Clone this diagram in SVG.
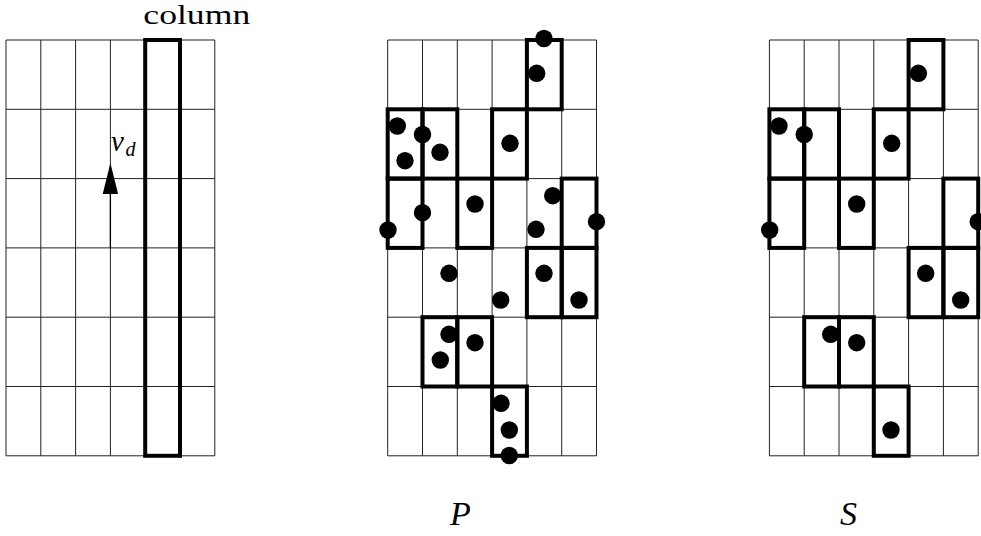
<svg xmlns="http://www.w3.org/2000/svg" xmlns:xlink="http://www.w3.org/1999/xlink" width="981" height="536" viewBox="0 0 981 536">
<style>
.grid{fill:none;stroke:#222;stroke-width:1}
.thick{fill:none;stroke:#000;stroke-width:4}
.dot{fill:#000}
.lbl{font-family:"Liberation Serif","DejaVu Serif",serif;fill:#000}
.it{font-style:italic}
</style>
<defs>
<path id="gridlines" class="grid" d="M0 0V415.8M34.8 0V415.8M69.6 0V415.8M104.4 0V415.8M139.2 0V415.8M174 0V415.8M208.8 0V415.8M0 0H208.8M0 69.3H208.8M0 138.6H208.8M0 207.9H208.8M0 277.2H208.8M0 346.5H208.8M0 415.8H208.8"/>
<rect id="cell" class="thick" width="34.8" height="69.3"/>
<g id="cells">
<use xlink:href="#cell" href="#cell" x="139.2" y="0"/>
<use xlink:href="#cell" href="#cell" x="0" y="69.3"/>
<use xlink:href="#cell" href="#cell" x="34.8" y="69.3"/>
<use xlink:href="#cell" href="#cell" x="104.4" y="69.3"/>
<use xlink:href="#cell" href="#cell" x="0" y="138.6"/>
<use xlink:href="#cell" href="#cell" x="69.6" y="138.6"/>
<use xlink:href="#cell" href="#cell" x="174" y="138.6"/>
<use xlink:href="#cell" href="#cell" x="139.2" y="207.9"/>
<use xlink:href="#cell" href="#cell" x="174" y="207.9"/>
<use xlink:href="#cell" href="#cell" x="34.8" y="277.2"/>
<use xlink:href="#cell" href="#cell" x="69.6" y="277.2"/>
<use xlink:href="#cell" href="#cell" x="104.4" y="346.5"/>
</g>
</defs>

<g id="panel-column">
<use xlink:href="#gridlines" href="#gridlines" x="6" y="40"/>
<rect class="thick" x="145.2" y="40" width="34.8" height="415.8"/>
<text class="lbl" x="143.3" y="24" font-size="28" textLength="107" lengthAdjust="spacingAndGlyphs">column</text>
</g>

<g id="connectors">
<line x1="110.4" y1="192" x2="110.4" y2="248" stroke="#000" stroke-width="1.3"/>
<polygon points="110.4,163 102.7,194 118.1,194" fill="#000"/>
<text class="lbl it" x="111" y="150.5" font-size="29">v</text>
<text class="lbl it" x="125.5" y="155.5" font-size="20">d</text>
</g>

<g id="panel-P">
<use xlink:href="#gridlines" href="#gridlines" x="387.7" y="40"/>
<use xlink:href="#cells" href="#cells" x="387.7" y="40"/>
<g class="dot">
<circle cx="544" cy="38.5" r="8.7"/>
<circle cx="536.7" cy="73.3" r="8.7"/>
<circle cx="397.3" cy="126" r="8.7"/>
<circle cx="422.5" cy="134.5" r="8.7"/>
<circle cx="405" cy="160.7" r="8.7"/>
<circle cx="440" cy="152.3" r="8.7"/>
<circle cx="510" cy="143.3" r="8.7"/>
<circle cx="388" cy="230" r="8.7"/>
<circle cx="422.5" cy="212.7" r="8.7"/>
<circle cx="475" cy="204" r="8.7"/>
<circle cx="552.7" cy="195.7" r="8.7"/>
<circle cx="536" cy="229.3" r="8.7"/>
<circle cx="596.5" cy="221.7" r="8.7"/>
<circle cx="449" cy="273.3" r="8.7"/>
<circle cx="544" cy="273.3" r="8.7"/>
<circle cx="500.7" cy="300" r="8.7"/>
<circle cx="579" cy="300" r="8.7"/>
<circle cx="449" cy="334.3" r="8.7"/>
<circle cx="440.3" cy="360" r="8.7"/>
<circle cx="475" cy="342.7" r="8.7"/>
<circle cx="501" cy="403.3" r="8.7"/>
<circle cx="509.3" cy="430" r="8.7"/>
<circle cx="509.3" cy="455.5" r="8.7"/>
</g>
<text class="lbl it" x="450" y="525" font-size="34">P</text>
</g>

<g id="panel-S">
<use xlink:href="#gridlines" href="#gridlines" x="769.4" y="40"/>
<use xlink:href="#cells" href="#cells" x="769.4" y="40"/>
<g class="dot">
<circle cx="918.4" cy="73.3" r="8.7"/>
<circle cx="779" cy="126" r="8.7"/>
<circle cx="804.2" cy="134.5" r="8.7"/>
<circle cx="891.7" cy="143.3" r="8.7"/>
<circle cx="769.7" cy="230" r="8.7"/>
<circle cx="856.7" cy="204" r="8.7"/>
<circle cx="978.2" cy="221.7" r="8.7"/>
<circle cx="925.7" cy="273.3" r="8.7"/>
<circle cx="960.7" cy="300" r="8.7"/>
<circle cx="830.7" cy="334.3" r="8.7"/>
<circle cx="856.7" cy="342.7" r="8.7"/>
<circle cx="891" cy="430" r="8.7"/>
</g>
<text class="lbl it" x="840" y="525" font-size="34">S</text>
</g>
</svg>
